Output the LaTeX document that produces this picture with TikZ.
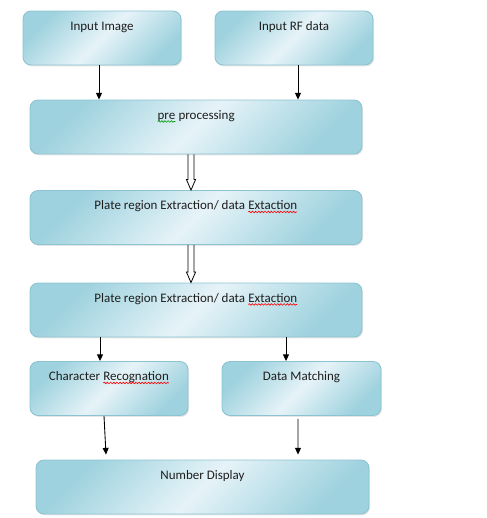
\documentclass[tikz,border=0pt]{standalone}
\usepackage{fontspec}
\setmainfont{Carlito}
\usetikzlibrary{arrows.meta, calc, shadows, decorations.pathmorphing}
\usepackage{xcolor}
\definecolor{boxdark}{RGB}{158,210,222}
\definecolor{boxlight}{RGB}{230,243,248}
\definecolor{boxedge}{RGB}{140,195,210}
\definecolor{labelcolor}{RGB}{30,30,30}

% wavy spell-check mark under a word
\newcommand{\spellmark}[2]{\tikz[baseline=(w.base), x=1cm, y=1cm, sharp corners]{\node[inner sep=0pt, outer sep=0pt, minimum width=0pt, minimum height=0pt, text height=, text depth=] (w) {#2}; \draw[#1, line width=0.35pt, decorate, decoration={snake, amplitude=0.45pt, segment length=1.8pt}] ([yshift=-1.4pt]w.base west) -- ([yshift=-1.4pt]w.base east);}}

\begin{document}
\begin{tikzpicture}[
    x=0.02cm, y=-0.02cm,
    stage/.style={rectangle, rounded corners=0.16cm, draw=boxedge, line width=0.5pt, left color=boxdark, right color=boxdark, middle color=boxlight, shading angle=45, drop shadow={opacity=0.2, shadow xshift=0.6pt, shadow yshift=-0.8pt}, inner xsep=2pt, inner ysep=0pt, text height=0.38cm, text depth=0.70cm, font=\fontsize{7.4}{8.8}\selectfont, text=labelcolor},
    small/.style={stage, minimum width=3.16cm},
    wide/.style={stage, minimum width=6.64cm},
    arrow/.style={-{Triangle[length=3.8pt, width=3.4pt]}, line width=0.5pt},
    hollow/.style={line width=0.45pt, to path={let \p1=(\tikztostart), \p2=(\tikztotarget) in (\x1-1.7pt,\y1) -- (\x1-1.7pt,\y2+6pt) -- (\x1-2.6pt,\y2+6pt) -- (\x1,\y2) -- (\x1+2.6pt,\y2+6pt) -- (\x1+1.7pt,\y2+6pt) -- (\x1+1.7pt,\y1)}}
]
    \useasboundingbox (0,0) rectangle (487,518);

    % Inputs
    \node[small] (img) at (102,38) {Input Image};
    \node[small] (rf) at (294,38) {Input RF data};

    % Processing chain
    \node[wide] (pre) at (196,127) {\spellmark{green!60!black}{pre} processing};
    \node[wide] (plate1) at (196,217.5) {Plate region Extraction/ data \spellmark{red}{Extaction}};
    \node[wide] (plate2) at (196,310) {Plate region Extraction/ data \spellmark{red}{Extaction}};

    % Branches
    \node[small] (char) at (109,388.5) {Character \spellmark{red}{Recognation}};
    \node[small, minimum width=3.18cm] (match) at (301.5,388.5) {Data Matching};

    % Output
    \node[wide, minimum width=6.66cm] (disp) at (202.5,487) {Number Display};

    % Connectors
    \draw[arrow] ($(img.south)+(-3,0)$) -- ($(pre.north)+(-97,0)$);
    \draw[arrow] ($(rf.south)+(4,0)$) -- ($(pre.north)+(102,0)$);
    \draw[hollow] ($(pre.south)+(-5,0)$) to ($(plate1.north)+(-5,0)$);
    \draw[hollow] ($(plate1.south)+(-5,0)$) to ($(plate2.north)+(-5,0)$);
    \draw[arrow] ($(plate2.south)+(-96,0)$) -- ($(char.north)+(-9,0)$);
    \draw[arrow] ($(plate2.south)+(90,0)$) -- ($(match.north)+(-15.5,0)$);
    \draw[arrow] ($(char.south)+(-5,0)$) -- ($(disp.north)+(-96.5,-5)$);
    \draw[arrow] ($(match.south)+(-3.5,3)$) -- ($(disp.north)+(95.5,-5)$);
\end{tikzpicture}
\end{document}
